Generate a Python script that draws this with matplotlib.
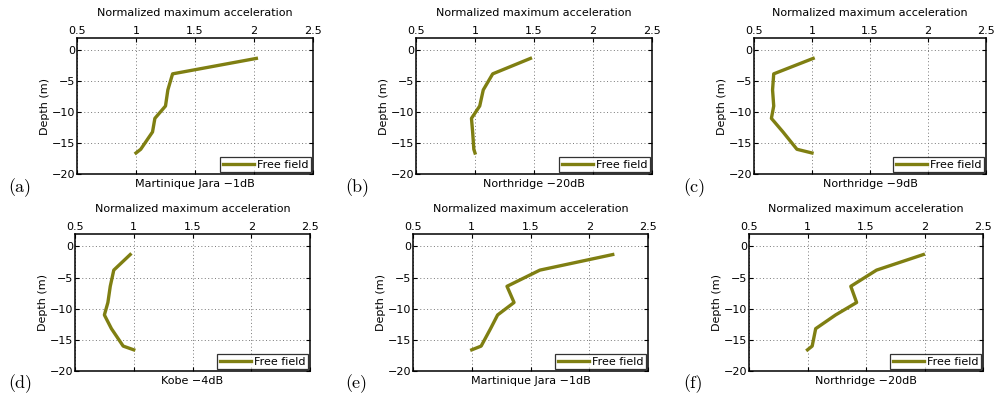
import matplotlib
matplotlib.use("Agg")
import matplotlib.pyplot as plt

depth = [-1.3, -3.8, -6.4, -9.0, -11.0, -13.2, -16.0, -16.6]

acc_a = [2.02, 1.31, 1.27, 1.25, 1.16, 1.14, 1.04, 1.00]
acc_b = [1.47, 1.15, 1.07, 1.04, 0.97, 0.98, 0.99, 1.00]
acc_c = [1.01, 0.67, 0.66, 0.67, 0.65, 0.75, 0.87, 1.00]
acc_d = [0.97, 0.83, 0.80, 0.78, 0.75, 0.81, 0.91, 1.00]
acc_e = [2.20, 1.58, 1.30, 1.36, 1.22, 1.16, 1.08, 1.00]
acc_f = [1.99, 1.59, 1.37, 1.42, 1.24, 1.07, 1.04, 1.00]

records = ["Martinique Jara \u22121dB", "Northridge \u221220dB", "Northridge \u22129dB",
           "Kobe \u22124dB", "Martinique Jara \u22121dB", "Northridge \u221220dB"]
letters = ["(a)", "(b)", "(c)", "(d)", "(e)", "(f)"]
series = [acc_a, acc_b, acc_c, acc_d, acc_e, acc_f]

xticks = [0.5, 1, 1.5, 2, 2.5]
yticks = [0, -5, -10, -15, -20]

W, H = 996, 401
# axes boxes in pixels: left, top, right, bottom
boxes = [
    (77, 38, 313, 174), (416, 38, 652, 174), (754, 38, 986, 174),
    (75, 234, 310, 371), (413, 234, 648, 371), (749, 234, 983, 371),
]
letter_pos = [(8, 188), (345, 188), (683, 188), (8, 384), (345, 384), (683, 384)]

fig = plt.figure(figsize=(W / 100, H / 100), dpi=100)
olive = "#7f7f12"
fs = 8

for i in range(6):
    l, t, r, b = boxes[i]
    ax = fig.add_axes([l / W, 1 - b / H, (r - l) / W, (b - t) / H])
    ax.plot(series[i], depth, color=olive, lw=2.4, label="Free field")
    ax.set_xlim(0.5, 2.5)
    ax.set_ylim(-20, 2)
    ax.set_xticks(xticks)
    ax.set_xticklabels(["0.5", "1", "1.5", "2", "2.5"])
    ax.set_yticks(yticks)
    ax.set_yticklabels(["0", "\u22125", "\u221210", "\u221215", "\u221220"])
    ax.xaxis.tick_top()
    ax.xaxis.set_label_position("top")
    ax.set_xlabel("Normalized maximum acceleration", fontsize=fs, labelpad=7)
    ax.set_ylabel("Depth (m)", fontsize=fs, labelpad=1)
    ax.tick_params(labelsize=fs, direction="in", length=3, pad=1.5,
                   top=True, bottom=True, left=True, right=True)
    ax.grid(True, linestyle=(0, (1, 2.5)), color="#777777", lw=0.7)
    for s in ax.spines.values():
        s.set_linewidth(1.1)
    ax.text(0.5, -0.035, records[i], transform=ax.transAxes, ha="center", va="top", fontsize=fs)
    leg = ax.legend(loc="lower right", fontsize=fs, frameon=True, fancybox=False,
                    handlelength=2.8, borderpad=0.25, borderaxespad=0.15, handletextpad=0.3)
    leg.get_frame().set_edgecolor("black")
    leg.get_frame().set_linewidth(0.9)
    x, y = letter_pos[i]
    fig.text(x / W, 1 - y / H, letters[i], fontsize=13, fontname="cmr10", va="center")

fig.savefig("out.png", dpi=100)
